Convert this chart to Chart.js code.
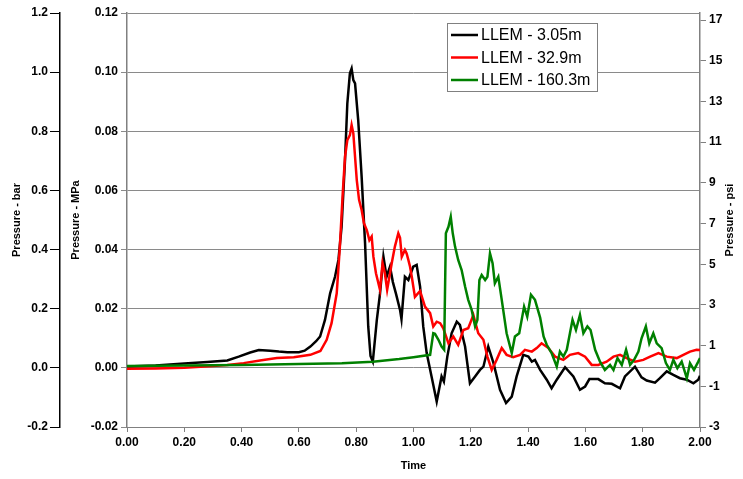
<!DOCTYPE html>
<html>
<head>
<meta charset="utf-8">
<title>LLEM pressure history</title>
<script src="https://cdn.jsdelivr.net/npm/chart.js@4/dist/chart.umd.min.js"></script>
<style>
  html, body { margin: 0; padding: 0; background: #fff; }
  #wrap { width: 743px; height: 479px; }
</style>
</head>
<body>
<div id="wrap"><canvas id="pressureChart" width="743" height="479"></canvas></div>
<script>
// Gauge traces, time vs. overpressure in MPa
const seriesNames = ['LLEM - 3.05m', 'LLEM - 32.9m', 'LLEM - 160.3m'];
const seriesColors = ['#000000', '#ff0000', '#008000'];

const blackTime = [0.00, 0.10, 0.20, 0.28, 0.35, 0.39, 0.43, 0.46, 0.50, 0.53, 0.56, 0.60, 0.62, 0.64, 0.66, 0.674,
  0.691, 0.709, 0.726, 0.738, 0.749, 0.761, 0.769, 0.778, 0.784, 0.790, 0.796, 0.807, 0.819, 0.831, 0.842, 0.850,
  0.858, 0.872, 0.883, 0.895, 0.906, 0.918, 0.928, 0.939, 0.953, 0.958, 0.970, 0.982, 0.999, 1.011, 1.023, 1.034,
  1.046, 1.063, 1.081, 1.098, 1.106, 1.118, 1.133, 1.151, 1.162, 1.180, 1.197, 1.215, 1.232, 1.244, 1.261, 1.279,
  1.302, 1.323, 1.343, 1.360, 1.383, 1.401, 1.413, 1.424, 1.442, 1.465, 1.482, 1.500, 1.529, 1.558, 1.581, 1.599,
  1.614, 1.645, 1.668, 1.692, 1.721, 1.738, 1.773, 1.796, 1.814, 1.843, 1.860, 1.884, 1.907, 1.930, 1.954, 1.977,
  1.994, 2.000];
const blackMPa = [0.0005, 0.0008, 0.0015, 0.0020, 0.0025, 0.0038, 0.0052, 0.0060, 0.0058, 0.0055, 0.0053, 0.0053, 0.0058, 0.0072, 0.0090, 0.0106,
  0.0162, 0.0252, 0.0308, 0.0365, 0.0477, 0.0703, 0.0894, 0.0996, 0.1012, 0.0973, 0.0962, 0.0838, 0.0646, 0.0420, 0.0140, 0.0040,
  0.0021, 0.0162, 0.0250, 0.0376, 0.0308, 0.0342, 0.0290, 0.0250, 0.0196, 0.0165, 0.0308, 0.0297, 0.0342, 0.0348, 0.0275, 0.0140,
  0.0050, -0.0029, -0.0114, -0.0029, -0.0046, 0.0038, 0.0117, 0.0156, 0.0145, 0.0072, -0.0052, -0.0029, -0.0007, 0.0004, 0.0072, 0.0017,
  -0.0074, -0.0119, -0.0097, -0.0029, 0.0044, 0.0038, 0.0021, 0.0027, -0.0007, -0.0040, -0.0069, -0.0040, 0.0002, -0.0029, -0.0074, -0.0063,
  -0.0038, -0.0038, -0.0052, -0.0054, -0.0069, -0.0029, 0.0004, -0.0032, -0.0043, -0.0050, -0.0035, -0.0012, -0.0024, -0.0035, -0.0040, -0.0052,
  -0.0040, -0.0027];

const redTime = [0.00, 0.10, 0.20, 0.30, 0.35, 0.407, 0.464, 0.523, 0.582, 0.640, 0.675, 0.697, 0.714, 0.732, 0.743, 0.753,
  0.761, 0.769, 0.778, 0.784, 0.790, 0.796, 0.802, 0.810, 0.819, 0.827, 0.837, 0.846, 0.854, 0.860, 0.869, 0.883,
  0.892, 0.900, 0.908, 0.924, 0.935, 0.947, 0.953, 0.959, 0.970, 0.976, 0.982, 0.988, 0.994, 1.005, 1.023, 1.040,
  1.058, 1.069, 1.081, 1.093, 1.104, 1.122, 1.139, 1.156, 1.174, 1.191, 1.209, 1.226, 1.244, 1.258, 1.273, 1.290,
  1.308, 1.325, 1.348, 1.372, 1.389, 1.413, 1.430, 1.447, 1.471, 1.494, 1.523, 1.546, 1.575, 1.599, 1.622, 1.645,
  1.674, 1.698, 1.721, 1.744, 1.773, 1.802, 1.826, 1.855, 1.884, 1.919, 1.942, 1.965, 1.988, 2.000];
const redMPa = [-0.0003, -0.0002, 0.0000, 0.0006, 0.0010, 0.0016, 0.0025, 0.0033, 0.0036, 0.0044, 0.0057, 0.0095, 0.0151, 0.0252, 0.0410, 0.0590,
  0.0714, 0.0770, 0.0787, 0.0821, 0.0793, 0.0714, 0.0635, 0.0568, 0.0534, 0.0489, 0.0466, 0.0432, 0.0444, 0.0376, 0.0320, 0.0264,
  0.0354, 0.0320, 0.0264, 0.0354, 0.0410, 0.0455, 0.0440, 0.0376, 0.0399, 0.0387, 0.0365, 0.0342, 0.0308, 0.0240, 0.0260, 0.0207,
  0.0185, 0.0140, 0.0156, 0.0151, 0.0134, 0.0083, 0.0106, 0.0078, 0.0128, 0.0134, 0.0179, 0.0117, 0.0095, 0.0038, -0.0007, 0.0027,
  0.0067, 0.0044, 0.0036, 0.0044, 0.0061, 0.0055, 0.0067, 0.0083, 0.0067, 0.0038, 0.0027, 0.0044, 0.0050, 0.0038, 0.0010, 0.0010,
  0.0021, 0.0038, 0.0044, 0.0033, 0.0021, 0.0027, 0.0038, 0.0050, 0.0038, 0.0033, 0.0044, 0.0055, 0.0061, 0.0060];

const greenTime = [0.00, 0.20, 0.40, 0.60, 0.75, 0.858, 0.95, 1.00, 1.058, 1.069, 1.075, 1.087, 1.098, 1.107, 1.113, 1.122,
  1.130, 1.137, 1.145, 1.156, 1.168, 1.180, 1.191, 1.203, 1.215, 1.223, 1.230, 1.238, 1.250, 1.258, 1.267, 1.276,
  1.284, 1.296, 1.308, 1.325, 1.343, 1.354, 1.369, 1.386, 1.397, 1.410, 1.424, 1.442, 1.454, 1.465, 1.482, 1.500,
  1.511, 1.523, 1.535, 1.546, 1.555, 1.567, 1.581, 1.593, 1.607, 1.618, 1.634, 1.651, 1.668, 1.686, 1.698, 1.712,
  1.727, 1.742, 1.756, 1.770, 1.785, 1.796, 1.811, 1.823, 1.837, 1.849, 1.866, 1.881, 1.895, 1.907, 1.921, 1.936,
  1.954, 1.965, 1.979, 1.994, 2.000];
const greenMPa = [0.0006, 0.0008, 0.0010, 0.0013, 0.0016, 0.0021, 0.0030, 0.0036, 0.0044, 0.0117, 0.0115, 0.0095, 0.0072, 0.0061, 0.0455, 0.0477,
  0.0511, 0.0455, 0.0410, 0.0365, 0.0331, 0.0275, 0.0230, 0.0196, 0.0140, 0.0162, 0.0297, 0.0314, 0.0297, 0.0308, 0.0387, 0.0354,
  0.0286, 0.0308, 0.0230, 0.0117, 0.0050, 0.0106, 0.0117, 0.0207, 0.0173, 0.0247, 0.0230, 0.0170, 0.0106, 0.0078, 0.0050, 0.0004,
  0.0055, 0.0038, 0.0061, 0.0117, 0.0162, 0.0128, 0.0179, 0.0117, 0.0140, 0.0128, 0.0061, 0.0021, -0.0007, 0.0010, -0.0007, 0.0033,
  0.0010, 0.0061, 0.0010, 0.0027, 0.0055, 0.0100, 0.0140, 0.0083, 0.0117, 0.0083, 0.0067, 0.0016, -0.0007, 0.0027, -0.0001, 0.0021,
  -0.0035, 0.0016, -0.0007, 0.0021, 0.0033];

// Axis ticks
const timeTicks = [0, 0.2, 0.4, 0.6, 0.8, 1.0, 1.2, 1.4, 1.6, 1.8, 2.0];
const mpaTicks = [-0.02, 0, 0.02, 0.04, 0.06, 0.08, 0.10, 0.12];
const barTicks = [-0.2, 0, 0.2, 0.4, 0.6, 0.8, 1.0, 1.2];
const psiTicks = [-3, -1, 1, 3, 5, 7, 9, 11, 13, 15, 17];

const FONT = "'Liberation Sans', Arial, sans-serif";
const tickFont = { family: FONT, size: 12, weight: 'bold' };
const titleFont = { family: FONT, size: 11, weight: 'bold' };

function toPoints(times, values) {
  return times.map((t, i) => ({ x: t, y: values[i] }));
}

function fixedTicks(list) {
  return scale => { scale.ticks = list.map(v => ({ value: v })); };
}

// Legend box drawn inside the plot area
const boxLegend = {
  id: 'boxLegend',
  afterDatasetsDraw(chart) {
    const { ctx, chartArea } = chart;
    const left = chartArea.left + 320;
    const top = chartArea.top + 10;
    const w = 150, h = 68, row = 22.5;
    ctx.save();
    ctx.fillStyle = '#ffffff';
    ctx.fillRect(left, top, w, h);
    ctx.strokeStyle = '#808080';
    ctx.lineWidth = 1;
    ctx.strokeRect(left + 0.5, top + 0.5, w, h);
    ctx.font = '16px ' + FONT;
    ctx.textBaseline = 'middle';
    ctx.fillStyle = '#000';
    seriesNames.forEach((name, i) => {
      const y = top + 12 + i * row;
      ctx.strokeStyle = seriesColors[i];
      ctx.lineWidth = 2.5;
      ctx.beginPath();
      ctx.moveTo(left + 4, y);
      ctx.lineTo(left + 31, y);
      ctx.stroke();
      ctx.fillText(name, left + 34, y + 1);
    });
    ctx.restore();
  }
};

// Right-hand axis title reads bottom-to-top like the left ones
const psiTitle = {
  id: 'psiTitle',
  afterDraw(chart) {
    const s = chart.scales.psi;
    const { ctx } = chart;
    ctx.save();
    ctx.translate(s.right - 13, (s.top + s.bottom) / 2);
    ctx.rotate(-Math.PI / 2);
    ctx.font = 'bold 11px ' + FONT;
    ctx.fillStyle = '#000';
    ctx.textAlign = 'center';
    ctx.textBaseline = 'middle';
    ctx.fillText('Pressure - psi', 0, 0);
    ctx.restore();
  }
};

const ctx = document.getElementById('pressureChart').getContext('2d');
new Chart(ctx, {
  type: 'line',
  data: {
    datasets: [
      { label: seriesNames[0], data: toPoints(blackTime, blackMPa), borderColor: seriesColors[0], order: 3 },
      { label: seriesNames[1], data: toPoints(redTime, redMPa), borderColor: seriesColors[1], order: 2 },
      { label: seriesNames[2], data: toPoints(greenTime, greenMPa), borderColor: seriesColors[2], order: 1 }
    ]
  },
  options: {
    responsive: false,
    animation: false,
    devicePixelRatio: 1,
    layout: { padding: { top: 13, left: 0, right: 0, bottom: 0 } },
    elements: {
      line: { borderWidth: 2.5, tension: 0, fill: false },
      point: { radius: 0 }
    },
    plugins: {
      legend: { display: false },
      tooltip: { enabled: false }
    },
    scales: {
      x: {
        type: 'linear',
        position: 'bottom',
        min: 0,
        max: 2,
        afterBuildTicks: fixedTicks(timeTicks),
        afterFit: s => { s.height = 52; },
        ticks: { font: tickFont, color: '#000', padding: 3, maxRotation: 0, callback: v => v.toFixed(2) },
        grid: { drawOnChartArea: false, tickLength: 5, color: '#808080' },
        border: { color: '#808080', width: 1 },
        title: { display: true, text: 'Time', font: titleFont, color: '#000', padding: { top: 0, bottom: 6 } }
      },
      y: {
        position: 'left',
        weight: 0,
        min: -0.02,
        max: 0.12,
        afterBuildTicks: fixedTicks(mpaTicks),
        afterFit: s => { s.width = 67; },
        ticks: { font: tickFont, color: '#000', padding: 3, callback: v => v.toFixed(2) },
        grid: { color: '#8a8a8a', lineWidth: 1, tickLength: 6 },
        border: { color: '#808080', width: 1.5 },
        title: { display: true, text: 'Pressure - MPa', font: titleFont, color: '#000', padding: { top: 9, bottom: 0 } }
      },
      bar: {
        position: 'left',
        weight: 1,
        min: -0.2,
        max: 1.2,
        afterBuildTicks: fixedTicks(barTicks),
        afterFit: s => { s.width = 60; },
        ticks: { font: tickFont, color: '#000', padding: 2, callback: v => v.toFixed(1) },
        grid: { drawOnChartArea: false, tickLength: 10, color: '#000' },
        border: { color: '#000', width: 1.5 },
        title: { display: true, text: 'Pressure - bar', font: titleFont, color: '#000', padding: { top: 10, bottom: 0 } }
      },
      psi: {
        position: 'right',
        min: -3,
        max: 17.35,
        afterBuildTicks: fixedTicks(psiTicks),
        afterFit: s => { s.width = 43; },
        ticks: { font: tickFont, color: '#000', padding: 3, callback: v => String(v) },
        grid: { drawOnChartArea: false, tickLength: 6, color: '#808080' },
        border: { color: '#808080', width: 1.5 }
      }
    }
  },
  plugins: [boxLegend, psiTitle]
});
</script>
</body>
</html>
